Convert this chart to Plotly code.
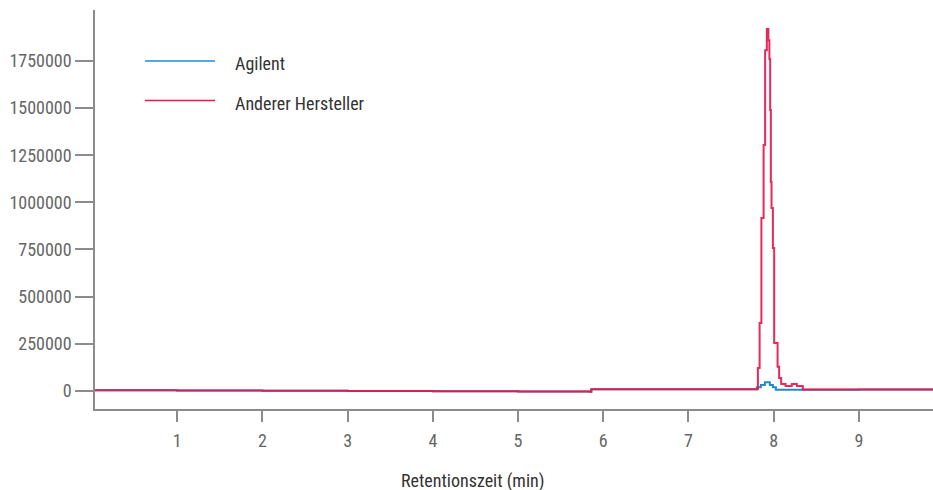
import plotly.graph_objects as go

# ---- data ----
series_names = ["Agilent", "Anderer Hersteller"]

agilent_time = [0.035, 1.0, 2.0, 3.0, 4.0, 5.0, 5.85, 5.86, 7.0, 7.803, 7.850, 7.897, 7.955,
                7.991, 8.026, 9.0, 9.87]
agilent_signal = [2000, 1500, 0, -1500, -3000, -4500, -6000, 7500, 7500, 18000, 30000, 44600,
                  30000, 18000, 5500, 6500, 7000]

other_time = [0.035, 1.0, 2.0, 3.0, 4.0, 5.0, 5.85, 5.86, 7.0, 7.815, 7.835, 7.856, 7.882,
              7.900, 7.920, 7.938, 7.950, 7.959, 7.967, 7.975, 7.991, 8.006, 8.046, 8.064,
              8.088, 8.139, 8.213, 8.272, 8.342, 9.0, 9.87]
other_signal = [2000, 1500, 0, -1500, -3000, -4500, -6000, 7500, 7500, 120500, 359000, 917000,
                1304000, 1808000, 1920000, 1861000, 1761000, 1490000, 1108000, 970000, 757000,
                253000, 127000, 67000, 36000, 25000, 36000, 25000, 7000, 7000, 7000]

x_ticks = [1, 2, 3, 4, 5, 6, 7, 8, 9]
y_ticks = [0, 250000, 500000, 750000, 1000000, 1250000, 1500000, 1750000]
x_title = "Retentionszeit (min)"

colors = ["#1e8bd0", "#e6194b"]

FONT = "Roboto Condensed, Liberation Sans Narrow, Arial Narrow, Roboto, sans-serif"
FS = 18

fig = go.Figure()
fig.add_trace(go.Scatter(x=agilent_time, y=agilent_signal, mode="lines", name=series_names[0],
                         line=dict(color=colors[0], width=2, shape="hv")))
fig.add_trace(go.Scatter(x=other_time, y=other_signal, mode="lines", name=series_names[1],
                         line=dict(color=colors[1], width=2, shape="hv"), opacity=0.92))

axis_color = "#8c8c8c"
fig.update_layout(
    width=933, height=490,
    margin=dict(l=95, r=0, t=10, b=81),
    paper_bgcolor="white", plot_bgcolor="white",
    showlegend=False,
    font=dict(family=FONT, size=FS, color="#666666"),
    xaxis=dict(range=[0.035, 9.87], tickvals=x_ticks, ticktext=[str(v) for v in x_ticks],
               showgrid=False, zeroline=False, showline=True, linecolor=axis_color, linewidth=1.5,
               ticks="outside", ticklen=11, tickwidth=1.5, tickcolor=axis_color,
               ticklabelstandoff=4,
               tickfont=dict(family=FONT, size=FS, color="#666666")),
    yaxis=dict(range=[-97000, 2021000], tickvals=y_ticks, ticktext=[str(v) for v in y_ticks],
               showgrid=False, zeroline=False, showline=True, linecolor=axis_color, linewidth=1.5,
               ticks="outside", ticklen=18, tickwidth=1.5, tickcolor=axis_color,
               tickfont=dict(family=FONT, size=FS, color="#666666")),
)

# x-axis title (placed left of plot centre, as in the reference)
fig.add_annotation(xref="paper", yref="paper", x=0.451, y=-0.1805, text=x_title,
                   showarrow=False, xanchor="center", yanchor="middle",
                   font=dict(family=FONT, size=FS, color="#333333"))

# manual legend (long line samples as in reference)
leg_y = [0.872, 0.7732]
for name, col, yy in zip(series_names, colors, leg_y):
    fig.add_shape(type="line", xref="paper", yref="paper", x0=0.0597, x1=0.1432, y0=yy, y1=yy,
                  line=dict(color=col, width=1.5))
    fig.add_annotation(xref="paper", yref="paper", x=0.1647, y=yy - 0.007, text=name,
                       showarrow=False, xanchor="left", yanchor="middle",
                       font=dict(family=FONT, size=FS, color="#333333"))

fig.write_html("out.html", config={"displayModeBar": False},
               post_script="document.body.style.margin='0';document.body.style.overflow='hidden';")
